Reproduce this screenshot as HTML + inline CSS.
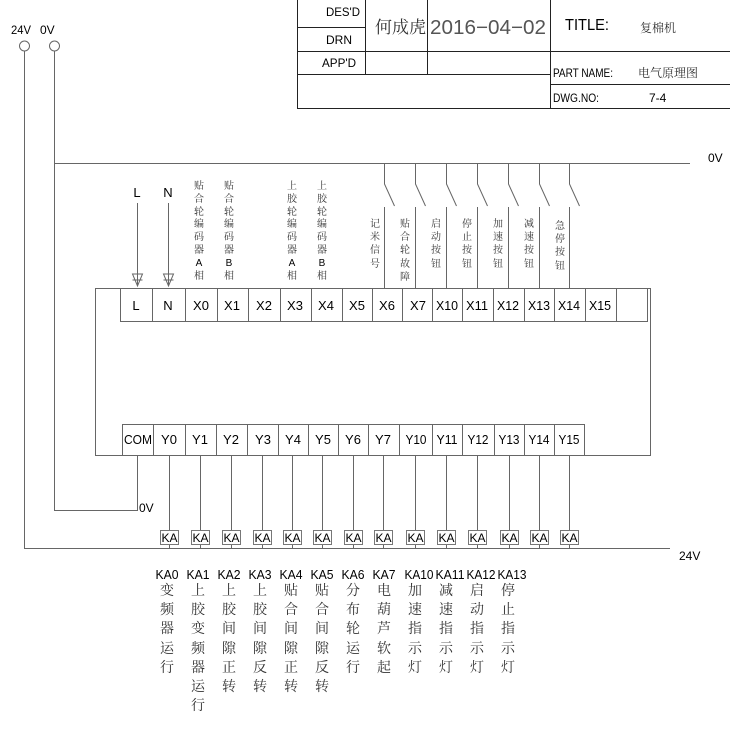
<!DOCTYPE html>
<html><head><meta charset="utf-8"><style>
html,body{margin:0;padding:0;background:#fff}
svg{display:block}
.t{font-family:"Liberation Sans",sans-serif;fill:#000}
.c{font-family:"Liberation Serif","Noto Serif CJK SC","Noto Sans CJK SC",serif;fill:#333}
</style></head><body>
<svg width="730" height="730" viewBox="0 0 730 730" xmlns="http://www.w3.org/2000/svg">
<g stroke="#222" stroke-width="1" fill="none">
<rect x="297.5" y="-1" width="434" height="109.5"/>
<line x1="365.5" y1="0" x2="365.5" y2="74"/>
<line x1="427.5" y1="0" x2="427.5" y2="74"/>
<line x1="550.5" y1="0" x2="550.5" y2="108"/>
<line x1="297" y1="27.5" x2="365" y2="27.5"/>
<line x1="297" y1="51.5" x2="730" y2="51.5"/>
<line x1="297" y1="74.5" x2="550" y2="74.5"/>
<line x1="550" y1="84.5" x2="730" y2="84.5"/>
</g>
<g stroke="#666" stroke-width="1" fill="none">
<circle cx="24.5" cy="46" r="5"/>
<circle cx="54.5" cy="46" r="5"/>
<polyline points="24.5,51 24.5,548.5 670,548.5"/>
<polyline points="54.5,51 54.5,510.5 137.5,510.5 137.5,455"/>
<line x1="54" y1="163.5" x2="690" y2="163.5"/>
<rect x="95.5" y="288.5" width="555" height="167"/>
<rect x="120.5" y="288.5" width="527" height="33"/>
<rect x="122.5" y="424.5" width="462" height="31"/>
</g>
<g stroke="#666" stroke-width="1">
<line x1="152.5" y1="288" x2="152.5" y2="321"/><line x1="185.5" y1="288" x2="185.5" y2="321"/>
<line x1="217.5" y1="288" x2="217.5" y2="321"/><line x1="248.5" y1="288" x2="248.5" y2="321"/>
<line x1="280.5" y1="288" x2="280.5" y2="321"/><line x1="311.5" y1="288" x2="311.5" y2="321"/>
<line x1="342.5" y1="288" x2="342.5" y2="321"/><line x1="372.5" y1="288" x2="372.5" y2="321"/>
<line x1="402.5" y1="288" x2="402.5" y2="321"/><line x1="432.5" y1="288" x2="432.5" y2="321"/>
<line x1="462.5" y1="288" x2="462.5" y2="321"/><line x1="493.5" y1="288" x2="493.5" y2="321"/>
<line x1="524.5" y1="288" x2="524.5" y2="321"/><line x1="554.5" y1="288" x2="554.5" y2="321"/>
<line x1="585.5" y1="288" x2="585.5" y2="321"/><line x1="616.5" y1="288" x2="616.5" y2="321"/>
<line x1="153.5" y1="424" x2="153.5" y2="455"/><line x1="185.5" y1="424" x2="185.5" y2="455"/>
<line x1="216.5" y1="424" x2="216.5" y2="455"/><line x1="247.5" y1="424" x2="247.5" y2="455"/>
<line x1="278.5" y1="424" x2="278.5" y2="455"/><line x1="308.5" y1="424" x2="308.5" y2="455"/>
<line x1="338.5" y1="424" x2="338.5" y2="455"/><line x1="368.5" y1="424" x2="368.5" y2="455"/>
<line x1="399.5" y1="424" x2="399.5" y2="455"/><line x1="432.5" y1="424" x2="432.5" y2="455"/>
<line x1="462.5" y1="424" x2="462.5" y2="455"/><line x1="494.5" y1="424" x2="494.5" y2="455"/>
<line x1="524.5" y1="424" x2="524.5" y2="455"/><line x1="554.5" y1="424" x2="554.5" y2="455"/>
<line x1="137.5" y1="203" x2="137.5" y2="286"/>
<line x1="168.5" y1="203" x2="168.5" y2="286"/>
</g>
<g fill="none" stroke="#666">
<polygon points="132.5,274 142.5,274 137.5,286"/>
<polygon points="163.5,274 173.5,274 168.5,286"/>
<line x1="132.5" y1="280" x2="142.5" y2="280"/>
<line x1="163.5" y1="280" x2="173.5" y2="280"/>
</g>
<g stroke="#666" fill="none">
<polyline points="384.5,163 384.5,184 394.5,206"/><line x1="384.5" y1="207" x2="384.5" y2="288"/>
<polyline points="415.5,163 415.5,184 425.5,206"/><line x1="415.5" y1="207" x2="415.5" y2="288"/>
<polyline points="446.5,163 446.5,184 456.5,206"/><line x1="446.5" y1="207" x2="446.5" y2="288"/>
<polyline points="477.5,163 477.5,184 487.5,206"/><line x1="477.5" y1="207" x2="477.5" y2="288"/>
<polyline points="508.5,163 508.5,184 518.5,206"/><line x1="508.5" y1="207" x2="508.5" y2="288"/>
<polyline points="539.5,163 539.5,184 549.5,206"/><line x1="539.5" y1="207" x2="539.5" y2="288"/>
<polyline points="569.5,163 569.5,184 579.5,206"/><line x1="569.5" y1="207" x2="569.5" y2="288"/>
</g>
<g stroke="#666" fill="none">
<line x1="169.5" y1="455" x2="169.5" y2="548"/><line x1="200.5" y1="455" x2="200.5" y2="548"/>
<line x1="231.5" y1="455" x2="231.5" y2="548"/><line x1="262.5" y1="455" x2="262.5" y2="548"/>
<line x1="292.5" y1="455" x2="292.5" y2="548"/><line x1="322.5" y1="455" x2="322.5" y2="548"/>
<line x1="353.5" y1="455" x2="353.5" y2="548"/><line x1="383.5" y1="455" x2="383.5" y2="548"/>
<line x1="415.5" y1="455" x2="415.5" y2="548"/><line x1="446.5" y1="455" x2="446.5" y2="548"/>
<line x1="477.5" y1="455" x2="477.5" y2="548"/><line x1="509.5" y1="455" x2="509.5" y2="548"/>
<line x1="539.5" y1="455" x2="539.5" y2="548"/><line x1="569.5" y1="455" x2="569.5" y2="548"/>
</g>
<g fill="#fff" stroke="#777">
<rect x="160.5" y="530.5" width="18" height="14"/><rect x="191.5" y="530.5" width="18" height="14"/>
<rect x="222.5" y="530.5" width="18" height="14"/><rect x="253.5" y="530.5" width="18" height="14"/>
<rect x="283.5" y="530.5" width="18" height="14"/><rect x="313.5" y="530.5" width="18" height="14"/>
<rect x="344.5" y="530.5" width="18" height="14"/><rect x="374.5" y="530.5" width="18" height="14"/>
<rect x="406.5" y="530.5" width="18" height="14"/><rect x="437.5" y="530.5" width="18" height="14"/>
<rect x="468.5" y="530.5" width="18" height="14"/><rect x="500.5" y="530.5" width="18" height="14"/>
<rect x="530.5" y="530.5" width="18" height="14"/><rect x="560.5" y="530.5" width="18" height="14"/>
</g>
<g class="t" font-size="12" text-anchor="middle">
<text x="169.5" y="542">KA</text><text x="200.5" y="542">KA</text><text x="231.5" y="542">KA</text><text x="262.5" y="542">KA</text>
<text x="292.5" y="542">KA</text><text x="322.5" y="542">KA</text><text x="353.5" y="542">KA</text><text x="383.5" y="542">KA</text>
<text x="415.5" y="542">KA</text><text x="446.5" y="542">KA</text><text x="477.5" y="542">KA</text><text x="509.5" y="542">KA</text>
<text x="539.5" y="542">KA</text><text x="569.5" y="542">KA</text>
</g>
<g class="t" font-size="12">
<text x="11" y="34" textLength="20" lengthAdjust="spacingAndGlyphs">24V</text><text x="40" y="34">0V</text>
<text x="326" y="16" textLength="34" lengthAdjust="spacingAndGlyphs">DES'D</text><text x="326" y="44">DRN</text><text x="322" y="67" textLength="34" lengthAdjust="spacingAndGlyphs">APP'D</text>
<text x="565" y="30" font-size="16" textLength="44" lengthAdjust="spacingAndGlyphs">TITLE:</text>
<text x="553" y="77" textLength="60" lengthAdjust="spacingAndGlyphs">PART NAME:</text>
<text x="553" y="102" textLength="46" lengthAdjust="spacingAndGlyphs">DWG.NO:</text>
<text x="649" y="102">7-4</text>
<text x="708" y="162">0V</text>
<text x="139" y="512">0V</text>
<text x="679" y="560">24V</text>
</g>
<text x="375" y="33" class="c" font-size="17" fill="#000">何成虎</text>
<text x="430" y="34" class="t" font-size="20" style="fill:#555" textLength="116" lengthAdjust="spacingAndGlyphs">2016−04−02</text>
<text x="640" y="32" class="c" font-size="12" fill="#000">复棉机</text>
<text x="638" y="77" class="c" font-size="12" fill="#000">电气原理图</text>
<g class="t" font-size="13" text-anchor="middle" lengthAdjust="spacingAndGlyphs">
<text x="137" y="197">L</text><text x="168" y="197">N</text>
<text x="136" y="310">L</text><text x="168" y="310">N</text><text x="201" y="310">X0</text><text x="232" y="310">X1</text>
<text x="264" y="310">X2</text><text x="295" y="310">X3</text><text x="326" y="310">X4</text><text x="357" y="310">X5</text>
<text x="387" y="310">X6</text><text x="418" y="310">X7</text>
<text x="447" y="310" textLength="22" lengthAdjust="spacingAndGlyphs">X10</text><text x="477" y="310" textLength="22" lengthAdjust="spacingAndGlyphs">X11</text>
<text x="508" y="310" textLength="22" lengthAdjust="spacingAndGlyphs">X12</text><text x="539" y="310" textLength="22" lengthAdjust="spacingAndGlyphs">X13</text>
<text x="569" y="310" textLength="22" lengthAdjust="spacingAndGlyphs">X14</text><text x="600" y="310" textLength="22" lengthAdjust="spacingAndGlyphs">X15</text>
<text x="138" y="444" textLength="28" lengthAdjust="spacingAndGlyphs">COM</text><text x="169" y="444">Y0</text><text x="200" y="444">Y1</text><text x="231" y="444">Y2</text>
<text x="263" y="444">Y3</text><text x="293" y="444">Y4</text><text x="323" y="444">Y5</text><text x="353" y="444">Y6</text>
<text x="383" y="444">Y7</text>
<text x="416" y="444" textLength="21" lengthAdjust="spacingAndGlyphs">Y10</text><text x="447" y="444" textLength="21" lengthAdjust="spacingAndGlyphs">Y11</text>
<text x="478" y="444" textLength="21" lengthAdjust="spacingAndGlyphs">Y12</text><text x="509" y="444" textLength="21" lengthAdjust="spacingAndGlyphs">Y13</text>
<text x="539" y="444" textLength="21" lengthAdjust="spacingAndGlyphs">Y14</text><text x="569" y="444" textLength="21" lengthAdjust="spacingAndGlyphs">Y15</text>
<text x="167" y="579" textLength="23" lengthAdjust="spacingAndGlyphs">KA0</text><text x="198" y="579" textLength="23" lengthAdjust="spacingAndGlyphs">KA1</text>
<text x="229" y="579" textLength="23" lengthAdjust="spacingAndGlyphs">KA2</text><text x="260" y="579" textLength="23" lengthAdjust="spacingAndGlyphs">KA3</text>
<text x="291" y="579" textLength="23" lengthAdjust="spacingAndGlyphs">KA4</text><text x="322" y="579" textLength="23" lengthAdjust="spacingAndGlyphs">KA5</text>
<text x="353" y="579" textLength="23" lengthAdjust="spacingAndGlyphs">KA6</text><text x="384" y="579" textLength="23" lengthAdjust="spacingAndGlyphs">KA7</text>
<text x="419" y="579" textLength="29" lengthAdjust="spacingAndGlyphs">KA10</text><text x="450" y="579" textLength="29" lengthAdjust="spacingAndGlyphs">KA11</text>
<text x="481" y="579" textLength="29" lengthAdjust="spacingAndGlyphs">KA12</text><text x="512" y="579" textLength="29" lengthAdjust="spacingAndGlyphs">KA13</text>
</g>
<g class="c" font-size="10" text-anchor="middle">
<g transform="translate(199,0)"><text y="189">贴</text><text y="202">合</text><text y="215">轮</text><text y="227">编</text><text y="240">码</text><text y="253">器</text><text y="266" class="t">A</text><text y="279">相</text></g>
<g transform="translate(229,0)"><text y="189">贴</text><text y="202">合</text><text y="215">轮</text><text y="227">编</text><text y="240">码</text><text y="253">器</text><text y="266" class="t">B</text><text y="279">相</text></g>
<g transform="translate(292,0)"><text y="189">上</text><text y="202">胶</text><text y="215">轮</text><text y="227">编</text><text y="240">码</text><text y="253">器</text><text y="266" class="t">A</text><text y="279">相</text></g>
<g transform="translate(322,0)"><text y="189">上</text><text y="202">胶</text><text y="215">轮</text><text y="227">编</text><text y="240">码</text><text y="253">器</text><text y="266" class="t">B</text><text y="279">相</text></g>
<g transform="translate(375,0)"><text y="227">记</text><text y="240">米</text><text y="253">信</text><text y="267">号</text></g>
<g transform="translate(405,0)"><text y="227">贴</text><text y="240">合</text><text y="253">轮</text><text y="267">故</text><text y="280">障</text></g>
<g transform="translate(436,0)"><text y="227">启</text><text y="240">动</text><text y="253">按</text><text y="267">钮</text></g>
<g transform="translate(467,0)"><text y="227">停</text><text y="240">止</text><text y="253">按</text><text y="267">钮</text></g>
<g transform="translate(498,0)"><text y="227">加</text><text y="240">速</text><text y="253">按</text><text y="267">钮</text></g>
<g transform="translate(529,0)"><text y="227">减</text><text y="240">速</text><text y="253">按</text><text y="267">钮</text></g>
<g transform="translate(560,0)"><text y="229">急</text><text y="242">停</text><text y="255">按</text><text y="269">钮</text></g>
</g>
<g class="c" font-size="14" text-anchor="middle">
<g transform="translate(167,0)"><text y="595">变</text><text y="614">频</text><text y="633">器</text><text y="653">运</text><text y="672">行</text></g>
<g transform="translate(198,0)"><text y="595">上</text><text y="614">胶</text><text y="633">变</text><text y="653">频</text><text y="672">器</text><text y="691">运</text><text y="710">行</text></g>
<g transform="translate(229,0)"><text y="595">上</text><text y="614">胶</text><text y="633">间</text><text y="653">隙</text><text y="672">正</text><text y="691">转</text></g>
<g transform="translate(260,0)"><text y="595">上</text><text y="614">胶</text><text y="633">间</text><text y="653">隙</text><text y="672">反</text><text y="691">转</text></g>
<g transform="translate(291,0)"><text y="595">贴</text><text y="614">合</text><text y="633">间</text><text y="653">隙</text><text y="672">正</text><text y="691">转</text></g>
<g transform="translate(322,0)"><text y="595">贴</text><text y="614">合</text><text y="633">间</text><text y="653">隙</text><text y="672">反</text><text y="691">转</text></g>
<g transform="translate(353,0)"><text y="595">分</text><text y="614">布</text><text y="633">轮</text><text y="653">运</text><text y="672">行</text></g>
<g transform="translate(384,0)"><text y="595">电</text><text y="614">葫</text><text y="633">芦</text><text y="653">软</text><text y="672">起</text></g>
<g transform="translate(415,0)"><text y="595">加</text><text y="614">速</text><text y="633">指</text><text y="653">示</text><text y="672">灯</text></g>
<g transform="translate(446,0)"><text y="595">减</text><text y="614">速</text><text y="633">指</text><text y="653">示</text><text y="672">灯</text></g>
<g transform="translate(477,0)"><text y="595">启</text><text y="614">动</text><text y="633">指</text><text y="653">示</text><text y="672">灯</text></g>
<g transform="translate(508,0)"><text y="595">停</text><text y="614">止</text><text y="633">指</text><text y="653">示</text><text y="672">灯</text></g>
</g>
</svg>
</body></html>
